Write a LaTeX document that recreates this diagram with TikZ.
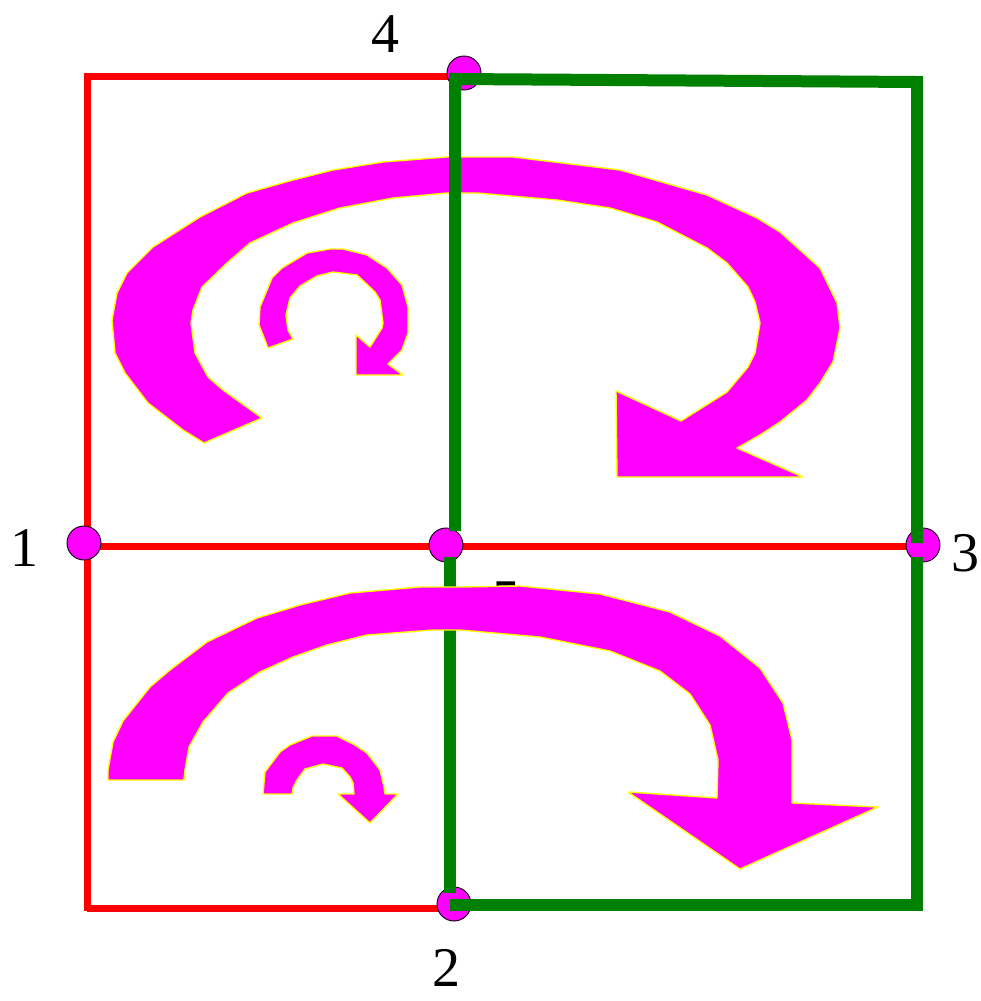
\documentclass[tikz,border=0pt]{standalone}
\usepackage{fontspec}
\setmainfont{Liberation Serif}
\begin{document}
\begin{tikzpicture}[x=1pt,y=-1pt,
  dotnode/.style={circle,fill={rgb,255:red,255;green,0;blue,255},draw=black,line width=0.9pt,minimum size=34pt,inner sep=0pt},
  numlabel/.style={inner sep=0pt,font=\fontsize{56}{58}\selectfont},
  redline/.style={draw={rgb,255:red,255;green,0;blue,0},line width=7pt},
  greenline/.style={draw={rgb,255:red,0;green,128;blue,0},line width=12pt},
  curlarrow/.style={fill={rgb,255:red,255;green,0;blue,255},draw={rgb,255:red,255;green,255;blue,0},line width=1.4pt,line join=round}]
\path[use as bounding box] (0,0) rectangle (980,1001);
% red squares
\draw[redline] (87,76) -- (453,76);
\draw[redline] (87,73) -- (87,911);
\draw[redline] (84,546) -- (920,546);
\draw[redline] (87,908) -- (453,908);
% junction dots
\node[dotnode] (n4) at (464,73) {};
\node[dotnode] (n1) at (84,543) {};
\node[dotnode] (n5) at (446,545) {};
\node[dotnode] (n3) at (923,545) {};
\node[dotnode] (n2) at (454,904) {};
% labels
\node[numlabel] (l4) at (385,34) {4};
\node[numlabel] (l1) at (24,548) {1};
\node[numlabel] (l3) at (965,553) {3};
\node[numlabel] (l2) at (446,968) {2};
\node[numlabel] (l5) at (506,600) {5};
% upper curls
\filldraw[curlarrow] (262,418) -- (204,443) -- (183,430) -- (148,403) -- (125,373) -- (115,353) -- (112,320) -- (117,293) -- (127,273) -- (153,247) -- (200,217) -- (247,193) -- (293,180) -- (333,170) -- (383,162) -- (447,157) -- (513,157) -- (620,170) -- (707,195) -- (757,218) -- (780,232) -- (820,268) -- (837,303) -- (840,328) -- (833,362) -- (820,383) -- (807,400) -- (780,422) -- (760,435) -- (737,448) -- (803,477) -- (617,477) -- (616,391) -- (681,421) -- (727,392) -- (748,367) -- (755,353) -- (760,323) -- (755,302) -- (748,287) -- (727,263) -- (707,248) -- (657,222) -- (610,208) -- (557,200) -- (477,193) -- (447,193) -- (393,198) -- (340,208) -- (293,223) -- (250,243) -- (227,263) -- (202,287) -- (193,310) -- (191,323) -- (195,353) -- (208,377) -- (223,390) -- cycle;
\filldraw[curlarrow] (293,339) -- (268,348) -- (259,325) -- (260,307) -- (272,278) -- (282,268) -- (307,253) -- (330,249) -- (343,249) -- (367,255) -- (387,268) -- (402,285) -- (408,307) -- (408,333) -- (402,350) -- (388,364) -- (403,375) -- (356,375) -- (356,335) -- (370,347) -- (382,328) -- (383,323) -- (380,300) -- (375,292) -- (357,275) -- (333,272) -- (317,276) -- (300,286) -- (290,298) -- (286,315) -- (288,330) -- cycle;
% green squares
\draw[greenline] (455,531) -- (455,79) -- (917,82) -- (917,543);
\draw[greenline] (450,557) -- (450,893);
\draw[greenline] (917,557) -- (917,905) -- (450,905);
% lower curls
\filldraw[curlarrow] (184,780) -- (108,780) -- (108,770) -- (113,742) -- (123,721) -- (150,687) -- (170,670) -- (207,642) -- (257,618) -- (300,605) -- (350,593) -- (420,587) -- (460,587) -- (520,586) -- (600,594) -- (670,612) -- (720,636) -- (760,668) -- (783,703) -- (792,740) -- (792,803) -- (878,807) -- (740,869) -- (628,792) -- (717,798) -- (718,760) -- (710,725) -- (690,694) -- (660,671) -- (610,651) -- (540,637) -- (460,630) -- (433,630) -- (367,635) -- (327,645) -- (293,657) -- (260,672) -- (228,693) -- (203,722) -- (189,747) -- (185,770) -- cycle;
\filldraw[curlarrow] (292,794) -- (263,794) -- (265,772) -- (280,752) -- (290,745) -- (312,736) -- (337,736) -- (355,745) -- (367,753) -- (380,770) -- (384,787) -- (385,794) -- (398,794) -- (370,823) -- (338,794) -- (354,794) -- (353,783) -- (350,777) -- (342,768) -- (323,764) -- (305,769) -- (297,780) -- (293,788) -- cycle;
\end{tikzpicture}
\end{document}
